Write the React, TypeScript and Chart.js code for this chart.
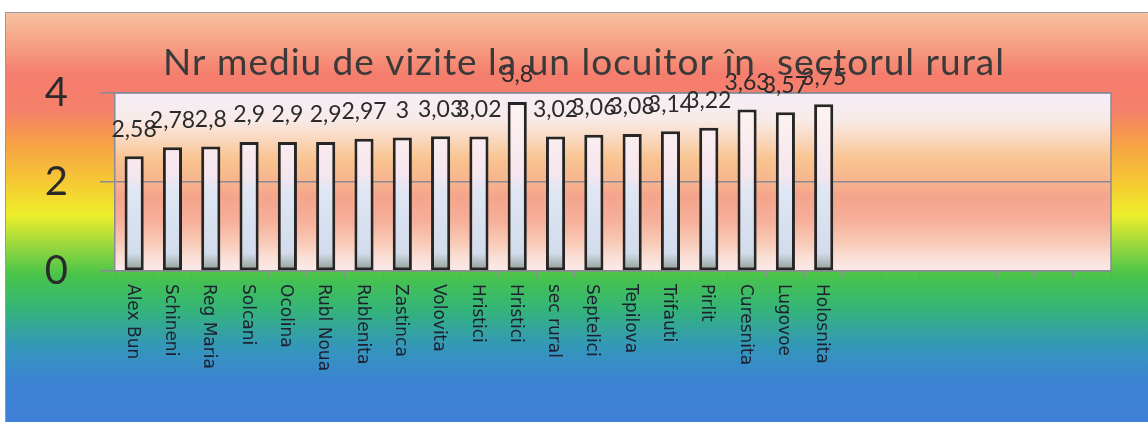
import React, { useEffect, useRef } from "react";
import { Chart, registerables } from "chart.js";

Chart.register(...registerables);

const TITLE = "Nr mediu de vizite la un locuitor în  sectorul rural";

const categories = [
  "Alex Bun", "Schineni", "Reg Maria", "Solcani", "Ocolina", "Rubl Noua",
  "Rublenita", "Zastinca", "Volovita", "Hristici", "Hristici", "sec rural",
  "Septelici", "Tepilova", "Trifauti", "Pirlit", "Curesnita", "Lugovoe",
  "Holosnita", "", "", "", "", "", "", "",
];

const values = [
  2.58, 2.78, 2.8, 2.9, 2.9, 2.9, 2.97, 3, 3.03, 3.02, 3.8, 3.02, 3.06, 3.08,
  3.14, 3.22, 3.63, 3.57, 3.75,
];

const yTicks = [0, 2, 4];

const fmt = (v: number) => String(v).replace(".", ",");

const decorPlugin = {
  id: "decor",
  beforeDraw(chart: any) {
    const { ctx, chartArea } = chart;
    const W = chart.width;
    const H = chart.height;
    ctx.save();
    ctx.fillStyle = "#ffffff";
    ctx.fillRect(0, 0, W, H);
    const g = ctx.createLinearGradient(0, 12, 0, H);
    const span = H - 12;
    const stop = (y: number, c: string) => g.addColorStop(Math.min(1, Math.max(0, (y - 12) / span)), c);
    stop(12, "#f7c2a2");
    stop(40, "#f6a586");
    stop(75, "#f57d6d");
    stop(110, "#f5806a");
    stop(145, "#f7a244");
    stop(185, "#f5cc32");
    stop(215, "#eeee2a");
    stop(245, "#9ad83e");
    stop(275, "#48c44a");
    stop(310, "#34b47a");
    stop(345, "#3498b8");
    stop(380, "#3b84d2");
    stop(422, "#3f80d6");
    ctx.fillStyle = g;
    ctx.fillRect(5, 12, W - 5, H - 12);
    ctx.strokeStyle = "#9a9a9a";
    ctx.lineWidth = 1;
    ctx.strokeRect(5.5, 12.5, W, H);

    const { left, right, top, bottom } = chartArea;
    const pg = ctx.createLinearGradient(0, top, 0, bottom);
    pg.addColorStop(0, "#f6eef6");
    pg.addColorStop(0.15, "#f8ebe8");
    pg.addColorStop(0.27, "#fad6ba");
    pg.addColorStop(0.37, "#f9c490");
    pg.addColorStop(0.5, "#f7b48e");
    pg.addColorStop(0.58, "#f5a48c");
    pg.addColorStop(0.72, "#f6b09a");
    pg.addColorStop(0.84, "#f8cab6");
    pg.addColorStop(0.93, "#fae0d8");
    pg.addColorStop(1, "#fbeaea");
    ctx.fillStyle = pg;
    ctx.fillRect(left, top, right - left, bottom - top);
    ctx.restore();
  },
  beforeDatasetsDraw(chart: any) {
    const { ctx, chartArea } = chart;
    ctx.save();
    ctx.strokeStyle = "#8a8a96";
    ctx.lineWidth = 1.5;
    ctx.beginPath();
    ctx.moveTo(chartArea.left, chartArea.top);
    ctx.lineTo(chartArea.right, chartArea.top);
    ctx.lineTo(chartArea.right, chartArea.bottom);
    ctx.stroke();
    ctx.restore();
  },
  afterDatasetsDraw(chart: any) {
    const { ctx } = chart;
    const meta = chart.getDatasetMeta(0);
    ctx.save();
    ctx.fillStyle = "#2a2a2a";
    ctx.font = "23px Lato";
    ctx.textAlign = "center";
    ctx.textBaseline = "middle";
    meta.data.forEach((bar: any, i: number) => {
      const v = values[i];
      if (v === undefined || v === null) return;
      ctx.fillText(fmt(v), bar.x, bar.y - 27);
    });
    ctx.restore();
  },
  afterDraw(chart: any) {
    const { ctx, chartArea } = chart;
    const xs = chart.scales.x;
    ctx.save();
    ctx.fillStyle = "#1e2030";
    ctx.font = "17px 'DejaVu Sans'";
    ctx.textAlign = "left";
    ctx.textBaseline = "middle";
    categories.forEach((c, i) => {
      if (!c) return;
      const x = xs.getPixelForValue(i) - 2;
      ctx.save();
      ctx.translate(x, chartArea.bottom + 13);
      ctx.rotate(Math.PI / 2);
      ctx.fillText(c, 0, 0);
      ctx.restore();
    });
    ctx.fillStyle = "#3a3a3a";
    ctx.font = "37px Lato";
    try {
      (ctx as any).letterSpacing = "1px";
    } catch (e) {}
    ctx.textAlign = "center";
    ctx.textBaseline = "alphabetic";
    ctx.fillText(TITLE, 584, 75);
    ctx.restore();
  },
};

export default function App() {
  const ref = useRef<HTMLCanvasElement | null>(null);
  useEffect(() => {
    if (!ref.current) return;
    const chart = new Chart(ref.current, {
      type: "bar",
      data: {
        labels: categories,
        datasets: [
          {
            data: values,
            borderColor: "#262626",
            borderWidth: 3,
            borderSkipped: false,
            barPercentage: 0.5,
            categoryPercentage: 1,
            backgroundColor: (c: any) => {
              const area = c.chart.chartArea;
              if (!area) return "#eeeeee";
              const g = c.chart.ctx.createLinearGradient(0, area.top, 0, area.bottom);
              g.addColorStop(0, "#fff6f2");
              g.addColorStop(0.45, "#f6e6ee");
              g.addColorStop(0.55, "#dfe6f4");
              g.addColorStop(0.9, "#d2dcec");
              g.addColorStop(1, "#8e9c92");
              return g;
            },
          },
        ],
      },
      options: {
        responsive: false,
        animation: false,
        layout: { padding: { top: 93, bottom: 151, left: 0, right: 37 } },
        plugins: {
          legend: { display: false },
          title: { display: false },
          tooltip: { enabled: false },
        },
        scales: {
          x: {
            afterFit: (s: any) => {
              s.height = 0;
            },
            ticks: { display: false },
            grid: {
              display: true,
              drawOnChartArea: false,
              drawTicks: true,
              tickLength: 6,
              color: "#8a8a96",
              offset: true,
            },
            border: { display: true, color: "#8a8a96", width: 1.5 },
          },
          y: {
            min: 0,
            max: 4,
            afterFit: (s: any) => {
              s.width = 115;
            },
            afterBuildTicks: (s: any) => {
              s.ticks = yTicks.map((v) => ({ value: v }));
            },
            ticks: {
              padding: 32,
              color: "#2a2a2a",
              font: { family: "Lato", size: 40 },
            },
            grid: {
              color: "#8a8a96",
              lineWidth: 1.5,
              tickLength: 15,
              drawTicks: true,
            },
            border: { display: true, color: "#8a8a96", width: 1.5 },
          },
        },
      },
      plugins: [decorPlugin],
    });
    return () => chart.destroy();
  }, []);
  return (
    <div style={{ position: "absolute", left: 0, top: 0, width: 1148, height: 422 }}>
      <canvas ref={ref} width={1148} height={422} />
    </div>
  );
}
